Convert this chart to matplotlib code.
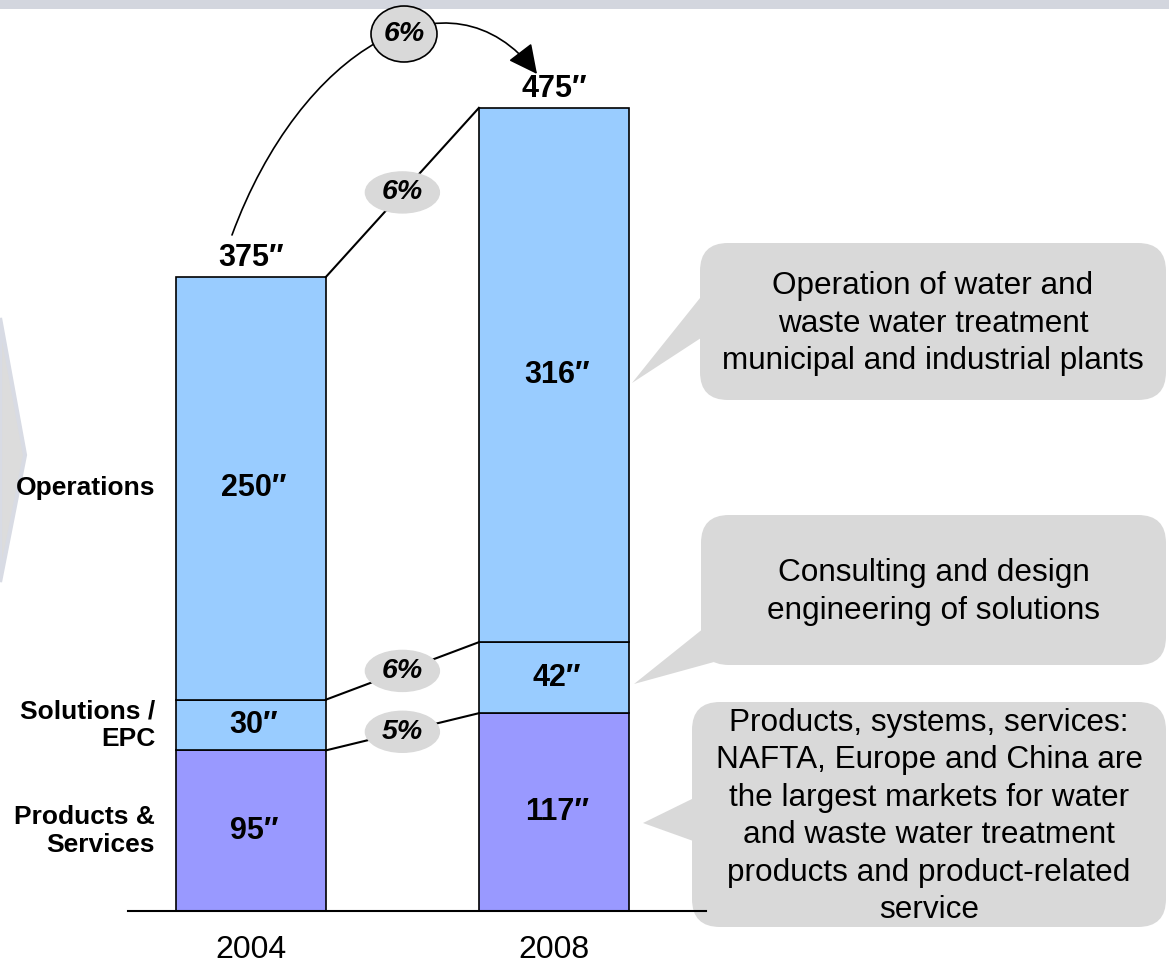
import matplotlib.pyplot as plt
from matplotlib.patches import Ellipse, FancyBboxPatch, Polygon, Rectangle, FancyArrowPatch
from matplotlib.path import Path

plt.rcParams['font.family'] = ['Liberation Sans', 'DejaVu Sans']

years = ['2004', '2008']
segments = ['Products &\nServices', 'Solutions /\nEPC', 'Operations']
products = [95, 117]
solutions = [30, 42]
operations = [250, 316]
totals = [375, 475]
seg_growth = ['5%', '6%', '6%']
total_growth = '6%'
notes = [
    'Operation of water and\nwaste water treatment\nmunicipal and industrial plants',
    'Consulting and design\nengineering of solutions',
    'Products, systems, services:\nNAFTA, Europe and China are\nthe largest markets for water\nand waste water treatment\nproducts and product-related\nservice',
]

W, H = 1169, 968
fig = plt.figure(figsize=(W / 100, H / 100), dpi=100)

# background layer in pixel coords (band, chevron, callouts, arrow)
bg = fig.add_axes([0, 0, 1, 1])
bg.set_xlim(0, W)
bg.set_ylim(H, 0)
bg.axis('off')

bg.add_patch(Rectangle((0, 0), W, 9, color='#D3D6DE', lw=0))
bg.add_patch(Polygon([(0, 318), (25, 455), (0, 582)], closed=True,
                     fc='#DCDCDC', ec='#D8DBE4', lw=3))

grey = '#D9D9D9'
boxes = [(700, 243, 466, 157), (701, 515, 465, 150), (692, 702, 474, 225)]
tails = [[(704, 293), (632, 383), (704, 336)],
         [(704, 628), (634, 684), (714, 662)],
         [(696, 797), (643, 823), (696, 842)]]
for (bx, by, bw_, bh), tail, note in zip(boxes, tails, notes):
    bg.add_patch(FancyBboxPatch((bx, by), bw_, bh,
                                boxstyle='round,pad=0,rounding_size=28',
                                fc=grey, ec='none'))
    bg.add_patch(Polygon(tail, closed=True, fc=grey, ec='none'))
    bg.text(bx + bw_ / 2, by + bh / 2 + 2, note, ha='center', va='center',
            fontsize=22.7, linespacing=1.33, color='black')

# total growth arrow
arc = Path([(232, 235), (300, 50), (450, -40), (537, 74)],
           [Path.MOVETO, Path.CURVE4, Path.CURVE4, Path.CURVE4])
bg.add_patch(FancyArrowPatch(path=arc, arrowstyle='-|>,head_length=0.9,head_width=0.45',
                             mutation_scale=20, lw=1.2, color='black'))
bg.add_patch(Ellipse((404, 34), 66, 56, fc=grey, ec='black', lw=1.2, zorder=3))
bg.text(404, 34, total_growth, ha='center', va='center', fontsize=20.5,
        weight='bold', style='italic', zorder=4)

# main chart
ax = fig.add_axes([0, 0, 1, 1])
ax.patch.set_visible(False)
x = [0, 1]
ax.set_xlim(-0.828, 3.030)
ax.set_ylim(-33.7, 538.8)
ax.axis('off')
sx = W / (3.030 + 0.828)
sy = H / (538.8 + 33.7)

bw = 0.495
bottom2 = products
bottom3 = [p + s for p, s in zip(products, solutions)]
ax.bar(x, products, bw, color='#9999FF', edgecolor='black', lw=1.2)
ax.bar(x, solutions, bw, bottom=bottom2, color='#99CCFF', edgecolor='black', lw=1.2)
ax.bar(x, operations, bw, bottom=bottom3, color='#99CCFF', edgecolor='black', lw=1.2)
ax.axhline(0, xmin=128 / W, xmax=706 / W, color='black', lw=1.5)

for vals, bots in [(products, [0, 0]), (solutions, bottom2), (operations, bottom3)]:
    for xi, v, b in zip(x, vals, bots):
        ax.text(xi + 0.01, b + v / 2, f'{v}\u2033', ha='center', va='center',
                fontsize=22, weight='bold')

for xi, t in zip(x, totals):
    ax.annotate(f'{t}\u2033', (xi, t), xytext=(0, 8), textcoords='offset points',
                ha='center', va='baseline', fontsize=22, weight='bold')

for xi, yr in zip(x, years):
    ax.annotate(yr, (xi, 0), xytext=(0, -28), textcoords='offset points',
                ha='center', va='center', fontsize=23)

centers04 = [products[0] / 2, products[0] + solutions[0] / 2, bottom3[0] + operations[0] / 2]
for seg, c in zip(segments, centers04):
    ax.annotate(seg, (x[0] - bw / 2, c), xytext=(-15, 0), textcoords='offset points',
                ha='right', va='center', fontsize=19, weight='bold', linespacing=1.2)

tops04 = [products[0], bottom3[0], totals[0]]
tops08 = [products[1], bottom3[1], totals[1]]
for g, y0, y1 in zip(seg_growth, tops04, tops08):
    x0, x1 = x[0] + bw / 2, x[1] - bw / 2
    ax.plot([x0, x1], [y0, y1], color='black', lw=1.5)
    xm, ym = (x0 + x1) / 2, (y0 + y1) / 2
    ax.add_patch(Ellipse((xm, ym), 74 / sx, 41 / sy, color=grey, zorder=3))
    ax.text(xm, ym, g, ha='center', va='center', fontsize=20.5, weight='bold',
            style='italic', zorder=4)

fig.savefig('out.png', dpi=100)
